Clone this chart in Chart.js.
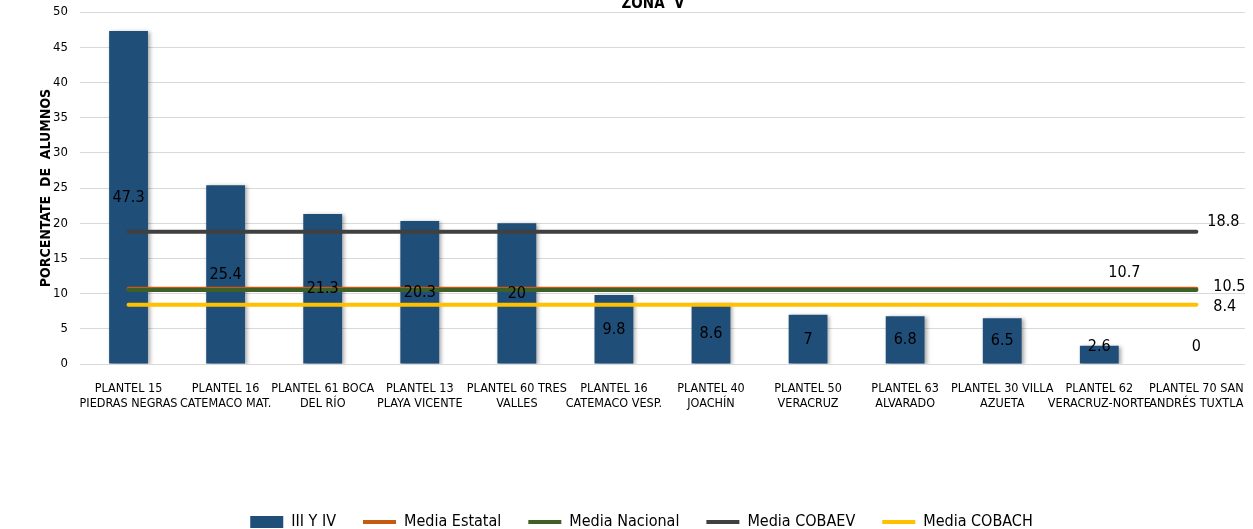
<!DOCTYPE html>
<html>
<head>
<meta charset="utf-8">
<script src="https://cdn.jsdelivr.net/npm/chart.js@4.4.1/dist/chart.umd.min.js"></script>
<style>
  html, body { margin: 0; padding: 0; background: #fff; }
  #wrap { width: 1253px; height: 529px; position: relative; }
</style>
</head>
<body>
<div id="wrap"><canvas id="zona-chart"></canvas></div>
<script>
  // data
  const planteles = [
    ['PLANTEL 15', 'PIEDRAS NEGRAS'],
    ['PLANTEL 16', 'CATEMACO MAT.'],
    ['PLANTEL 61 BOCA', 'DEL RÍO'],
    ['PLANTEL 13', 'PLAYA VICENTE'],
    ['PLANTEL 60 TRES', 'VALLES'],
    ['PLANTEL 16', 'CATEMACO VESP.'],
    ['PLANTEL 40', 'JOACHÍN'],
    ['PLANTEL 50', 'VERACRUZ'],
    ['PLANTEL 63', 'ALVARADO'],
    ['PLANTEL 30 VILLA', 'AZUETA'],
    ['PLANTEL 62', 'VERACRUZ-NORTE'],
    ['PLANTEL 70 SAN', 'ANDRÉS TUXTLA']
  ];
  const tercerCuarto = [47.3, 25.4, 21.3, 20.3, 20, 9.8, 8.6, 7, 6.8, 6.5, 2.6, 0];
  const mediaEstatal = 10.7;
  const mediaNacional = 10.5;
  const mediaCobaev = 18.8;
  const mediaCobach = 8.4;
  const yTicks = [0, 5, 10, 15, 20, 25, 30, 35, 40, 45, 50];

  const FONT = '"Liberation Sans Narrow", "DejaVu Sans Condensed", Arial, sans-serif';
  const flat = v => planteles.map(() => v);

  // lbl = [dx, dy] of the value label from the line's last point
  const mediaLine = (label, value, color, lbl, order) => ({
    type: 'line', label, data: flat(value), order,
    borderColor: color, backgroundColor: color,
    borderWidth: 4, borderCapStyle: 'round', pointRadius: 0, pointHoverRadius: 0,
    lastLabel: lbl
  });

  // value labels: centered in bars, and near the end of each media line
  const labelsPlugin = {
    id: 'valueLabels',
    afterDatasetsDraw(chart) {
      const ctx = chart.ctx;
      const y = chart.scales.y;
      ctx.save();
      ctx.fillStyle = '#000';
      ctx.font = '16px ' + FONT;
      ctx.textAlign = 'center';
      ctx.textBaseline = 'middle';
      chart.getDatasetMeta(0).data.forEach((bar, i) => {
        const v = tercerCuarto[i];
        let py = y.getPixelForValue(v / 2);
        py = Math.min(py, y.getPixelForValue(0) - 17);
        ctx.fillText(String(v), bar.x, py);
      });
      ctx.textAlign = 'left';
      chart.data.datasets.forEach((ds, di) => {
        if (!ds.lastLabel) return;
        const meta = chart.getDatasetMeta(di);
        const pt = meta.data[meta.data.length - 1];
        ctx.fillText(String(ds.data[ds.data.length - 1]), pt.x + ds.lastLabel[0], pt.y + ds.lastLabel[1]);
      });
      ctx.restore();
    }
  };

  // title sits half outside the top edge, as in the original
  const titlePlugin = {
    id: 'cutTitle',
    afterDraw(chart) {
      const ctx = chart.ctx;
      ctx.save();
      ctx.font = 'bold 15px ' + FONT;
      ctx.fillStyle = '#000';
      ctx.textAlign = 'center';
      ctx.textBaseline = 'alphabetic';
      ctx.fillText('ZONA  V', 653, 8);
      ctx.restore();
    }
  };

  const shadowPlugin = {
    id: 'barShadow',
    beforeDatasetDraw(chart, args) {
      if (args.index !== 0) return;
      const ctx = chart.ctx;
      ctx.save();
      ctx.shadowColor = 'rgba(0,0,0,0.35)';
      ctx.shadowBlur = 4;
      ctx.shadowOffsetX = 2;
      ctx.shadowOffsetY = 1;
    },
    afterDatasetDraw(chart, args) {
      if (args.index !== 0) return;
      chart.ctx.restore();
    }
  };

  new Chart(document.getElementById('zona-chart').getContext('2d'), {
    type: 'bar',
    data: {
      labels: planteles,
      datasets: [
        { label: 'III Y IV', data: tercerCuarto, backgroundColor: '#1F4E79', borderWidth: 0,
          barPercentage: 0.4, categoryPercentage: 1, order: 5 },
        mediaLine('Media Estatal', mediaEstatal, '#C55A11', [-88, -16], 4),
        mediaLine('Media Nacional', mediaNacional, '#3F5F26', [17, -3], 3),
        mediaLine('Media COBAEV', mediaCobaev, '#404040', [11, -10], 2),
        mediaLine('Media COBACH', mediaCobach, '#FFC000', [17, 2], 1)
      ]
    },
    options: {
      responsive: true,
      maintainAspectRatio: false,
      animation: false,
      layout: { padding: { top: 12, right: 8, left: 38, bottom: -11 } },
      plugins: {
        tooltip: { enabled: false },
        legend: {
          position: 'bottom',
          labels: {
            color: '#000',
            font: { family: FONT, size: 16 },
            usePointStyle: true,
            pointStyleWidth: 33,
            boxHeight: 12,
            padding: 27,
            generateLabels(chart) {
              return chart.data.datasets.map((ds, i) => ({
                text: ds.label,
                fillStyle: ds.backgroundColor,
                strokeStyle: ds.type === 'line' ? ds.borderColor : ds.backgroundColor,
                lineWidth: ds.type === 'line' ? 4 : 0,
                pointStyle: ds.type === 'line' ? 'line' : 'rect',
                datasetIndex: i,
                hidden: false
              }));
            }
          }
        }
      },
      scales: {
        x: {
          grid: { display: false },
          border: { display: false },
          ticks: { color: '#000', font: { family: FONT, size: 12.5 }, maxRotation: 0, autoSkip: false, padding: 9 },
          afterFit(scale) { scale.height = 123; }
        },
        y: {
          min: 0, max: 50,
          afterBuildTicks(scale) { scale.ticks = yTicks.map(v => ({ value: v })); },
          grid: { color: '#D9D9D9', lineWidth: 1, drawTicks: false },
          border: { display: false },
          ticks: { color: '#000', font: { family: FONT, size: 13 }, padding: 12 },
          title: {
            display: true, text: 'PORCENTATE  DE  ALUMNOS', color: '#000',
            font: { family: FONT, size: 14, weight: 'bold' }, padding: { top: 0, bottom: 4 }
          },
          afterFit(scale) { scale.width = 42; scale.paddingTop = 0; scale.paddingBottom = 0; }
        }
      }
    },
    plugins: [labelsPlugin, titlePlugin, shadowPlugin]
  });
</script>
</body>
</html>
